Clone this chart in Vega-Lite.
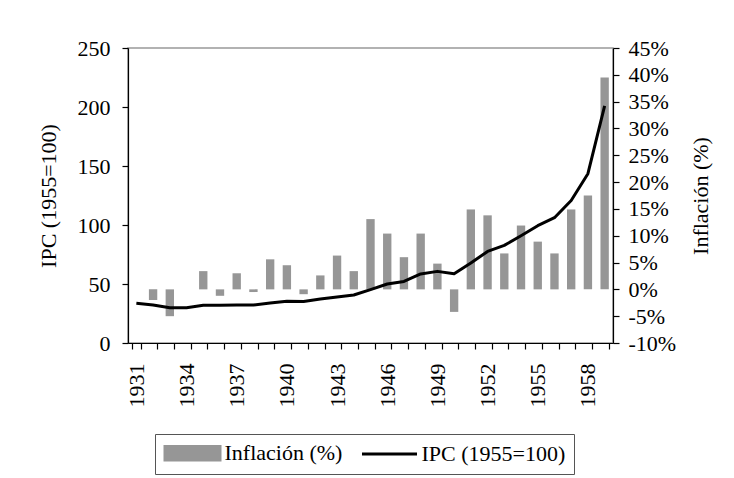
{
  "$schema": "https://vega.github.io/schema/vega-lite/v6.json",
  "width": 485,
  "height": 295,
  "autosize": {"type": "none"},
  "padding": {"left": 128, "top": 48, "right": 121, "bottom": 135},
  "background": "white",
  "config": {
    "font": "Liberation Serif",
    "view": {"stroke": "#999999", "strokeWidth": 1.5},
    "axis": {
      "labelFont": "Liberation Serif",
      "titleFont": "Liberation Serif",
      "labelFontSize": 22,
      "titleFontSize": 22,
      "titleFontWeight": "normal",
      "labelColor": "black",
      "titleColor": "black",
      "domainColor": "black",
      "tickColor": "black",
      "domainWidth": 1.2,
      "tickWidth": 1.2,
      "grid": false
    }
  },
  "data": {
    "values": [
      {"year": 1931, "ipc": 33.6, "inf": null},
      {"year": 1932, "ipc": 32.2, "inf": -2.0},
      {"year": 1933, "ipc": 29.9, "inf": -5.0},
      {"year": 1934, "ipc": 29.9, "inf": 0.0},
      {"year": 1935, "ipc": 31.9, "inf": 3.4},
      {"year": 1936, "ipc": 32.0, "inf": -1.2},
      {"year": 1937, "ipc": 32.2, "inf": 3.0},
      {"year": 1938, "ipc": 32.2, "inf": -0.5},
      {"year": 1939, "ipc": 33.9, "inf": 5.6},
      {"year": 1940, "ipc": 35.3, "inf": 4.5},
      {"year": 1941, "ipc": 35.2, "inf": -0.9},
      {"year": 1942, "ipc": 37.3, "inf": 2.6},
      {"year": 1943, "ipc": 39.0, "inf": 6.3},
      {"year": 1944, "ipc": 40.7, "inf": 3.4},
      {"year": 1945, "ipc": 45.2, "inf": 13.1},
      {"year": 1946, "ipc": 50.0, "inf": 10.4},
      {"year": 1947, "ipc": 52.2, "inf": 6.0},
      {"year": 1948, "ipc": 58.5, "inf": 10.4},
      {"year": 1949, "ipc": 60.7, "inf": 4.8},
      {"year": 1950, "ipc": 58.7, "inf": -4.2},
      {"year": 1951, "ipc": 67.8, "inf": 14.9},
      {"year": 1952, "ipc": 77.6, "inf": 13.8},
      {"year": 1953, "ipc": 82.7, "inf": 6.7},
      {"year": 1954, "ipc": 90.9, "inf": 11.9},
      {"year": 1955, "ipc": 99.4, "inf": 8.9},
      {"year": 1956, "ipc": 106.2, "inf": 6.7},
      {"year": 1957, "ipc": 120.8, "inf": 14.9},
      {"year": 1958, "ipc": 143.5, "inf": 17.5},
      {"year": 1959, "ipc": 201.0, "inf": 39.5}
    ]
  },
  "encoding": {
    "x": {
      "field": "year",
      "type": "ordinal",
      "scale": {"paddingInner": 0.5, "paddingOuter": 0.25},
      "axis": {
        "title": null,
        "labelAngle": -90,
        "tickBand": "extent",
        "tickSize": 6,
        "labelPadding": 14,
        "labelExpr": "(datum.value - 1931) % 3 == 0 ? datum.label : ''"
      }
    }
  },
  "layer": [
    {
      "mark": {"type": "bar"},
      "encoding": {
        "y": {
          "field": "inf",
          "type": "quantitative",
          "scale": {"domain": [-10, 45], "nice": false, "zero": false},
          "axis": {
            "orient": "right",
            "title": "Inflación (%)",
            "values": [-10, -5, 0, 5, 10, 15, 20, 25, 30, 35, 40, 45],
            "labelExpr": "datum.value + '%'",
            "tickSize": 6,
            "labelPadding": 9,
            "titleAngle": 270,
            "titleBaseline": "top",
            "titlePadding": 15
          }
        },
        "color": {
          "datum": "Inflación (%)",
          "type": "nominal",
          "scale": {"domain": ["Inflación (%)", "IPC (1955=100)"], "range": ["#969696", "#000000"]},
          "legend": {
            "title": null,
            "orient": "none",
            "legendX": 27,
            "legendY": 386,
            "direction": "horizontal",
            "strokeColor": "#555555",
            "padding": 8,
            "labelFont": "Liberation Serif",
            "labelFontSize": 22,
            "labelColor": "black",
            "labelLimit": 400,
            "labelOffset": 21,
            "symbolOffset": 18.5,
            "columnPadding": 12,
            "symbolSize": 225,
            "symbolStrokeWidth": 3,
            "encode": {
              "symbols": {
                "update": {
                  "shape": {"signal": "datum.value == 'Inflación (%)' ? 'M-3.667,-0.9H3.667V0.9H-3.667Z' : 'M-3.667,0H3.667'"},
                  "fill": {"signal": "datum.value == 'Inflación (%)' ? '#969696' : 'transparent'"},
                  "stroke": {"signal": "datum.value == 'Inflación (%)' ? 'transparent' : '#000000'"},
                  "strokeWidth": {"value": 3},
                  "size": {"value": 225},
                  "opacity": {"value": 1}
                }
              }
            }
          }
        }
      }
    },
    {
      "mark": {"type": "line", "strokeWidth": 3, "strokeJoin": "round"},
      "encoding": {
        "y": {
          "field": "ipc",
          "type": "quantitative",
          "scale": {"domain": [0, 250], "nice": false},
          "axis": {
            "orient": "left",
            "title": "IPC (1955=100)",
            "values": [0, 50, 100, 150, 200, 250],
            "tickSize": 6,
            "labelPadding": 12,
            "titlePadding": 17
          }
        },
        "color": {"datum": "IPC (1955=100)", "type": "nominal"}
      }
    }
  ],
  "resolve": {"scale": {"y": "independent"}}
}
